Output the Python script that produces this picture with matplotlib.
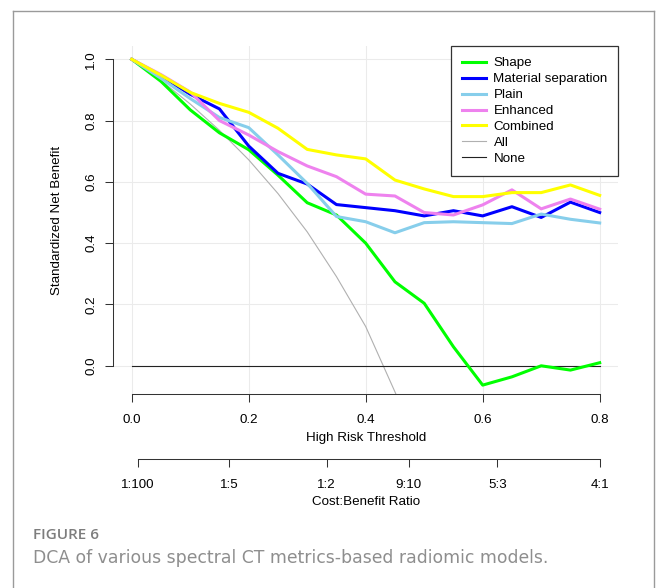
import matplotlib
matplotlib.use("Agg")
import matplotlib.pyplot as plt
from matplotlib.lines import Line2D

# ---------------- data ----------------
thresholds = [0.00, 0.05, 0.10, 0.15, 0.20, 0.25, 0.30, 0.35, 0.40,
              0.45, 0.50, 0.55, 0.60, 0.65, 0.70, 0.75, 0.80]
shape    = [1.000, 0.928, 0.835, 0.760, 0.705, 0.622, 0.532, 0.492, 0.400,
            0.274, 0.204, 0.062, -0.063, -0.036, 0.000, -0.014, 0.010]
material = [1.000, 0.945, 0.886, 0.838, 0.717, 0.628, 0.593, 0.526, 0.516,
            0.506, 0.489, 0.506, 0.489, 0.519, 0.484, 0.534, 0.500]
plain    = [1.000, 0.938, 0.872, 0.810, 0.777, 0.688, 0.595, 0.487, 0.470,
            0.434, 0.467, 0.470, 0.467, 0.464, 0.495, 0.478, 0.466]
enhanced = [1.000, 0.950, 0.893, 0.800, 0.753, 0.699, 0.652, 0.617, 0.560,
            0.554, 0.500, 0.492, 0.525, 0.574, 0.512, 0.544, 0.511]
combined = [1.000, 0.948, 0.892, 0.856, 0.827, 0.775, 0.706, 0.688, 0.675,
            0.606, 0.577, 0.552, 0.552, 0.565, 0.565, 0.590, 0.556]
all_thr  = [0.00, 0.05, 0.10, 0.15, 0.20, 0.25, 0.30, 0.35, 0.40, 0.45, 0.50]
all_vals = [1.000, 0.931, 0.854, 0.768, 0.672, 0.562, 0.437, 0.291, 0.128, -0.085, -0.310]
none_thr  = [0.0, 0.8]
none_vals = [0.0, 0.0]

series_names = ["Shape", "Material separation", "Plain", "Enhanced", "Combined"]
series_vals = [shape, material, plain, enhanced, combined]
series_colors = ["#00FF00", "#0000FF", "#87CEEB", "#EE82EE", "#FFFF00"]

x_ticks = [0.0, 0.2, 0.4, 0.6, 0.8]
x_ticklabels = ["0.0", "0.2", "0.4", "0.6", "0.8"]
y_ticks = [0.0, 0.2, 0.4, 0.6, 0.8, 1.0]
y_ticklabels = ["0.0", "0.2", "0.4", "0.6", "0.8", "1.0"]
cb_labels = ["1:100", "1:5", "1:2", "9:10", "5:3", "4:1"]
cb_cost = [1, 1, 1, 9, 5, 4]
cb_benefit = [100, 5, 2, 10, 3, 1]

# ---------------- figure ----------------
W, H = 656, 588
fig = plt.figure(figsize=(W / 100, H / 100), dpi=100)
FONT = ["Liberation Sans", "DejaVu Sans"]
plt.rcParams["font.family"] = FONT
FS = 9.6
AX_COL = "#333333"
GRAY_ALL = "#B0B0B0"

left_px, right_px, top_px, bottom_px = 113.0, 618.4, 46.4, 394.0
ax = fig.add_axes([left_px / W, 1 - bottom_px / H,
                   (right_px - left_px) / W, (bottom_px - top_px) / H])
ax.set_xlim(-0.032, 0.832)
ax.set_ylim(-0.092, 1.042)

ax.set_xticks(x_ticks)
ax.set_xticklabels(x_ticklabels)
ax.set_yticks(y_ticks)
ax.set_yticklabels(y_ticklabels)
ax.grid(True, color="#EBEBEB", lw=0.75, zorder=0)
ax.set_axisbelow(True)

for s in ["top", "right"]:
    ax.spines[s].set_visible(False)
ax.spines["left"].set_bounds(0.0, 1.0)
ax.spines["bottom"].set_bounds(0.0, 0.8)
for s in ["left", "bottom"]:
    ax.spines[s].set_color(AX_COL)
    ax.spines[s].set_linewidth(0.75)
ax.tick_params(direction="out", length=5.8, width=0.75, color=AX_COL,
               labelsize=FS, labelcolor="black", pad=8.5)
ax.tick_params(axis="y", labelrotation=90, pad=5.5)
for lab in ax.get_yticklabels():
    lab.set_va("center")

# lines
ax.plot(all_thr, all_vals, color=GRAY_ALL, lw=0.8, label="_all", zorder=2)
ax.plot(none_thr, none_vals, color="#222222", lw=0.8, label="_none", zorder=2)
handles = []
for name, vals, col in zip(series_names, series_vals, series_colors):
    h, = ax.plot(thresholds, vals, color=col, lw=2.2, label=name, zorder=3,
                 solid_joinstyle="round")
    handles.append(h)
handles.append(Line2D([], [], color=GRAY_ALL, lw=0.8, label="All"))
handles.append(Line2D([], [], color="#222222", lw=0.8, label="None"))

leg = ax.legend(handles=handles, loc="upper right", borderaxespad=0,
                fancybox=False, edgecolor=AX_COL, framealpha=1, fontsize=FS,
                handlelength=1.8, handletextpad=0.57, labelspacing=0.27,
                borderpad=0.8)
leg.get_frame().set_linewidth(0.9)

ax.set_ylabel("Standardized Net Benefit", fontsize=FS)
ax.yaxis.set_label_coords(57 / W, 1 - 220 / H, transform=fig.transFigure)
ax.yaxis.label.set_va("center")
ax.set_xlabel("High Risk Threshold", fontsize=FS)
ax.xaxis.set_label_coords(365.7 / W, 1 - 438 / H, transform=fig.transFigure)
ax.xaxis.label.set_va("center")

# cost:benefit axis
cb_pos = [c / (c + b) for c, b in zip(cb_cost, cb_benefit)]
ax2 = fig.add_axes([left_px / W, 1 - 459 / H, (right_px - left_px) / W, 0.0001])
ax2.set_xlim(ax.get_xlim())
ax2.patch.set_visible(False)
for s in ["top", "right", "left"]:
    ax2.spines[s].set_visible(False)
ax2.spines["bottom"].set_bounds(cb_pos[0], cb_pos[-1])
ax2.spines["bottom"].set_color(AX_COL)
ax2.spines["bottom"].set_linewidth(0.75)
ax2.set_yticks([])
ax2.set_xticks(cb_pos)
ax2.set_xticklabels(cb_labels)
ax2.tick_params(direction="out", length=5.8, width=0.75, color=AX_COL,
                labelsize=FS, pad=8.5)
ax2.set_xlabel("Cost:Benefit Ratio", fontsize=FS)
ax2.xaxis.set_label_coords(365.7 / W, 1 - 502 / H, transform=fig.transFigure)
ax2.xaxis.label.set_va("center")

# caption
t_fig = fig.text(33 / W, 1 - 535 / H, "FIGURE 6", fontsize=10, fontweight="semibold",
                 color="#7D7D7D", family=["Open Sans", "DejaVu Sans"],
                 va="center", ha="left")
t_cap = fig.text(33 / W, 1 - 558 / H,
                 "DCA of various spectral CT metrics-based radiomic models.",
                 fontsize=11.2, color="#8E8E8E", fontweight="normal",
                 family=["DejaVu Sans"], va="center", ha="left")

# fit caption widths to the reference
fig.canvas.draw()
r = fig.canvas.get_renderer()
for t, target in [(t_fig, 66.0), (t_cap, 518.0)]:
    for _ in range(2):
        w = t.get_window_extent(r).width
        t.set_fontsize(t.get_fontsize() * target / w)

# card border
bc = "#9A9A9A"
fig.add_artist(Line2D([13 / W, 13 / W], [0, 1 - 11 / H], transform=fig.transFigure,
                      color=bc, lw=1.0))
fig.add_artist(Line2D([13 / W, 654 / W], [1 - 11 / H, 1 - 11 / H],
                      transform=fig.transFigure, color=bc, lw=1.0))
fig.add_artist(Line2D([654 / W, 654 / W], [0, 1 - 11 / H], transform=fig.transFigure,
                      color=bc, lw=1.0))

fig.savefig("out.png", dpi=100)
